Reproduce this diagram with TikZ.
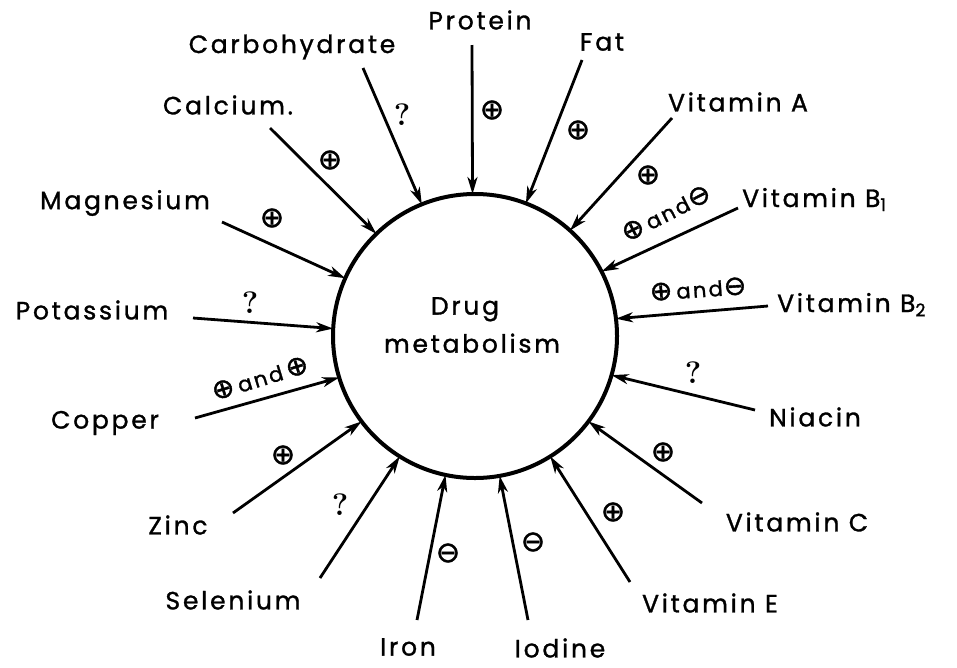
\documentclass[tikz,border=0pt]{standalone}
\usepackage{fontspec}
\newfontfamily\labf[LetterSpace=11, FakeBold=1.2]{Poppins}
\newfontfamily\symf[FakeBold=1.5]{DejaVu Sans}
\usetikzlibrary{arrows.meta}
\tikzset{
  lab/.style={font=\labf\fontsize{25}{30}\selectfont, inner sep=0pt},
  sgn/.style={font=\symf\fontsize{29}{30}\selectfont, inner sep=0pt},
  qm/.style={font=\bfseries\fontsize{31}{32}\selectfont, inner sep=0pt},
  both/.style={font=\labf\fontsize{21}{24}\selectfont, inner sep=0pt},
  arr/.style={line width=2.8pt, -{Stealth[length=17pt,width=10pt,inset=5pt]}},
  hub/.style={circle, draw, line width=4pt, minimum size=284pt, inner sep=0pt, outer sep=0pt}
}
\newcommand{\pl}{{\symf\fontsize{27}{30}\selectfont ⊕}}
\newcommand{\mi}{{\symf\fontsize{27}{30}\selectfont ⊖}}
\begin{document}
\begin{tikzpicture}[x=1pt,y=-1pt]
\useasboundingbox (0,0) rectangle (957,667);
\node[hub] (dm) at (475,336) {};
\node[lab, align=center, font=\labf\fontsize{25}{38}\selectfont] (txt) at (472,325) {Drug\hspace*{14pt}\\metabolism};

% labels
\node[lab] (protein) at (480,20) {Protein};
\node[lab] (carb) at (292,47) {Carbohydrate};
\node[lab] (calc) at (228,105) {Calcium.};
\node[lab] (fat) at (602,42) {Fat};
\node[lab] (vitA) at (738,102) {Vitamin A};
\node[lab, anchor=base west] (vitB1) at (742,207) {Vitamin B\textsubscript{1}};
\node[lab, anchor=base west] (vitB2) at (777,312) {Vitamin B\textsubscript{2}};
\node[lab] (mg) at (125,203) {Magnesium};
\node[lab] (k) at (92,310) {Potassium};
\node[lab] (cu) at (105,423) {Copper};
\node[lab] (zn) at (178,525) {Zinc};
\node[lab] (se) at (233,600) {Selenium};
\node[lab] (fe) at (408,647) {Iron};
\node[lab] (iod) at (560,648) {Iodine};
\node[lab] (vitE) at (710,603) {Vitamin E};
\node[lab] (vitC) at (797,522) {Vitamin C};
\node[lab] (nia) at (815,417) {Niacin};

% tails
\coordinate (tProtein) at (472,45);
\coordinate (tCarb) at (363,68);
\coordinate (tCalc) at (270,128);
\coordinate (tFat) at (582,60);
\coordinate (tVitA) at (672,118);
\coordinate (tB1) at (738,208);
\coordinate (tB2) at (768,306);
\coordinate (tMg) at (222,222);
\coordinate (tK) at (193,318);
\coordinate (tCu) at (195,418);
\coordinate (tZn) at (233,513);
\coordinate (tSe) at (320,578);
\coordinate (tFe) at (417,620);
\coordinate (tIod) at (528,620);
\coordinate (tVitE) at (630,582);
\coordinate (tVitC) at (702,503);
\coordinate (tNia) at (755,410);

% arrows
\draw[arr] (tProtein) -- (dm.91);
\draw[arr] (tCarb) -- (dm.112.5);
\draw[arr] (tCalc) -- (dm.134.4);
\draw[arr] (tFat) -- (dm.69.1);
\draw[arr] (tVitA) -- (dm.48.1);
\draw[arr] (tB1) -- (dm.27.6);
\draw[arr] (tB2) -- (dm.7.5);
\draw[arr] (tMg) -- (dm.156.3);
\draw[arr] (tK) -- (dm.177.7);
\draw[arr] (tCu) -- (dm.197.2);
\draw[arr] (tZn) -- (dm.217);
\draw[arr] (tSe) -- (dm.238.2);
\draw[arr] (tFe) -- (dm.258);
\draw[arr] (tIod) -- (dm.280.8);
\draw[arr] (tVitE) -- (dm.302.8);
\draw[arr] (tVitC) -- (dm.323.2);
\draw[arr] (tNia) -- (dm.344.2);

% effect signs
\node[sgn] (sProtein) at (492,110) {⊕};
\node[qm] (sCarb) at (402,115) {?};
\node[sgn] (sCalc) at (330,160) {⊕};
\node[sgn] (sFat) at (578,130) {⊕};
\node[sgn] (sVitA) at (648,175) {⊕};
\node[both, rotate=27] (sB1) at (666,213) {\pl\hspace{4pt}and\hspace{1pt}\mi};
\node[both, rotate=4] (sB2) at (698,289) {\pl\hspace{4pt}and\hspace{1pt}\mi};
\node[sgn] (sMg) at (272,218) {⊕};
\node[qm] (sK) at (250,303) {?};
\node[both, rotate=17] (sCu) at (260,378) {\pl\hspace{4pt}and\hspace{4pt}\pl};
\node[sgn] (sZn) at (283,455) {⊕};
\node[qm] (sSe) at (340,505) {?};
\node[sgn] (sFe) at (448,553) {⊖};
\node[sgn] (sIod) at (533,542) {⊖};
\node[sgn] (sVitE) at (613,512) {⊕};
\node[sgn] (sVitC) at (663,452) {⊕};
\node[qm] (sNia) at (693,373) {?};
\end{tikzpicture}
\end{document}
